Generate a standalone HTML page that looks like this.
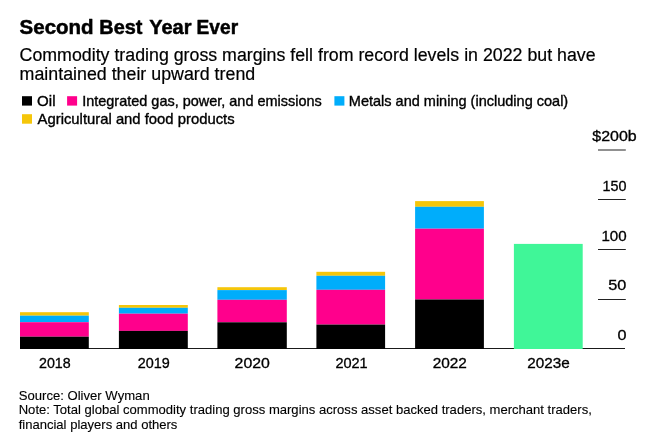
<!DOCTYPE html>
<html><head><meta charset="utf-8"><title>Second Best Year Ever</title>
<style>
html,body{margin:0;padding:0;background:#fff;}
body{width:656px;height:442px;overflow:hidden;font-family:"Liberation Sans",sans-serif;}
svg{display:block}
text{font-family:"Liberation Sans",sans-serif;fill:#000}
.ax{font-size:14.2px;stroke:#000;stroke-width:0.3px}
.lg{font-size:14.4px;stroke:#000;stroke-width:0.36px}
.ft{font-size:13px;stroke:#000;stroke-width:0.12px}
</style></head><body>
<svg width="656" height="442" viewBox="0 0 656 442">
<rect width="656" height="442" fill="#fff"/>
<g font-size="19.3" font-weight="bold" stroke="#000" stroke-width="0.5" stroke-linejoin="round">
<text x="19.6" y="34.4" textLength="74" lengthAdjust="spacingAndGlyphs">Second</text>
<text x="99.3" y="34.4" textLength="43.1" lengthAdjust="spacingAndGlyphs">Best</text>
<text x="149.2" y="34.4" textLength="42.3" lengthAdjust="spacingAndGlyphs">Year</text>
<text x="196.6" y="34.4" textLength="41.5" lengthAdjust="spacingAndGlyphs">Ever</text>
</g>
<text x="19.6" y="60.6" font-size="18.8" stroke="#000" stroke-width="0.2" textLength="576" lengthAdjust="spacingAndGlyphs">Commodity trading gross margins fell from record levels in 2022 but have</text>
<text x="19.6" y="80.4" font-size="18.8" stroke="#000" stroke-width="0.2" textLength="235.6" lengthAdjust="spacingAndGlyphs">maintained their upward trend</text>

<!-- legend -->
<rect x="22" y="96.2" width="10" height="9.4" fill="#000"/>
<text class="lg" x="37.1" y="105.5" textLength="18.4" lengthAdjust="spacingAndGlyphs">Oil</text>
<rect x="67.1" y="96.2" width="10" height="9.4" fill="#ff008c"/>
<text class="lg" x="82.2" y="105.5" textLength="239.6" lengthAdjust="spacingAndGlyphs">Integrated gas, power, and emissions</text>
<rect x="334.4" y="96.2" width="10" height="9.4" fill="#00adfb"/>
<text class="lg" x="348.8" y="105.5" textLength="219.4" lengthAdjust="spacingAndGlyphs">Metals and mining (including coal)</text>
<rect x="22" y="114.2" width="10" height="9.5" fill="#f5c60a"/>
<text class="lg" x="37.6" y="123.5" textLength="197" lengthAdjust="spacingAndGlyphs">Agricultural and food products</text>

<!-- axis -->
<g stroke="#222" stroke-width="1">
<line x1="598" x2="625.8" y1="150" y2="150"/>
<line x1="598" x2="625.8" y1="199.5" y2="199.5"/>
<line x1="598" x2="625.8" y1="249.5" y2="249.5"/>
<line x1="598" x2="625.8" y1="299.5" y2="299.5"/>
</g>
<line x1="20" x2="625" y1="348.5" y2="348.5" stroke="#1a1a1a" stroke-width="1"/>
<text class="ax" x="592.3" y="141.3" textLength="44.4" lengthAdjust="spacingAndGlyphs">$200b</text>
<text class="ax" x="602.6" y="191.2" textLength="24" lengthAdjust="spacingAndGlyphs">150</text>
<text class="ax" x="601.4" y="241.1" textLength="25.2" lengthAdjust="spacingAndGlyphs">100</text>
<text class="ax" x="608.3" y="290.2" textLength="18.1" lengthAdjust="spacingAndGlyphs">50</text>
<text class="ax" x="617.4" y="340.2" textLength="9" lengthAdjust="spacingAndGlyphs">0</text>

<!-- bars -->
<g>
<rect x="20" y="312.2" width="68.8" height="3.5" fill="#f5c60a"/>
<rect x="20" y="315.7" width="68.8" height="6.5" fill="#00adfb"/>
<rect x="20" y="322.2" width="68.8" height="14.5" fill="#ff008c"/>
<rect x="20" y="336.7" width="68.8" height="12.3" fill="#000"/>

<rect x="118.9" y="305" width="68.9" height="2.8" fill="#f5c60a"/>
<rect x="118.9" y="307.8" width="68.9" height="5.9" fill="#00adfb"/>
<rect x="118.9" y="313.7" width="68.9" height="17.2" fill="#ff008c"/>
<rect x="118.9" y="330.9" width="68.9" height="18.1" fill="#000"/>

<rect x="217.4" y="287.2" width="69.4" height="2.9" fill="#f5c60a"/>
<rect x="217.4" y="290.1" width="69.4" height="9.7" fill="#00adfb"/>
<rect x="217.4" y="299.8" width="69.4" height="22.5" fill="#ff008c"/>
<rect x="217.4" y="322.3" width="69.4" height="26.7" fill="#000"/>

<rect x="316.4" y="271.8" width="68.7" height="4" fill="#f5c60a"/>
<rect x="316.4" y="275.8" width="68.7" height="14" fill="#00adfb"/>
<rect x="316.4" y="289.8" width="68.7" height="34.8" fill="#ff008c"/>
<rect x="316.4" y="324.6" width="68.7" height="24.4" fill="#000"/>

<rect x="415.1" y="201.1" width="68.8" height="5.7" fill="#f5c60a"/>
<rect x="415.1" y="206.8" width="68.8" height="21.9" fill="#00adfb"/>
<rect x="415.1" y="228.7" width="68.8" height="70.8" fill="#ff008c"/>
<rect x="415.1" y="299.5" width="68.8" height="49.5" fill="#000"/>

<rect x="513.9" y="243.9" width="68.8" height="105.1" fill="#40f698"/>
</g>

<!-- x labels -->
<g class="ax">
<text x="39" y="367.9" textLength="31.7" lengthAdjust="spacingAndGlyphs">2018</text>
<text x="137.8" y="367.9" textLength="32" lengthAdjust="spacingAndGlyphs">2019</text>
<text x="234.6" y="367.9" textLength="35.2" lengthAdjust="spacingAndGlyphs">2020</text>
<text x="335.4" y="367.9" textLength="32.3" lengthAdjust="spacingAndGlyphs">2021</text>
<text x="432.7" y="367.9" textLength="34.2" lengthAdjust="spacingAndGlyphs">2022</text>
<text x="527.3" y="367.9" textLength="42.5" lengthAdjust="spacingAndGlyphs">2023e</text>
</g>

<!-- footer -->
<text class="ft" x="18.7" y="399.8" textLength="131" lengthAdjust="spacingAndGlyphs">Source: Oliver Wyman</text>
<text class="ft" x="18.7" y="414.2" textLength="573.2" lengthAdjust="spacingAndGlyphs">Note: Total global commodity trading gross margins across asset backed traders, merchant traders,</text>
<text class="ft" x="18.7" y="428.6" textLength="158.7" lengthAdjust="spacingAndGlyphs">financial players and others</text>
</svg>
</body></html>
